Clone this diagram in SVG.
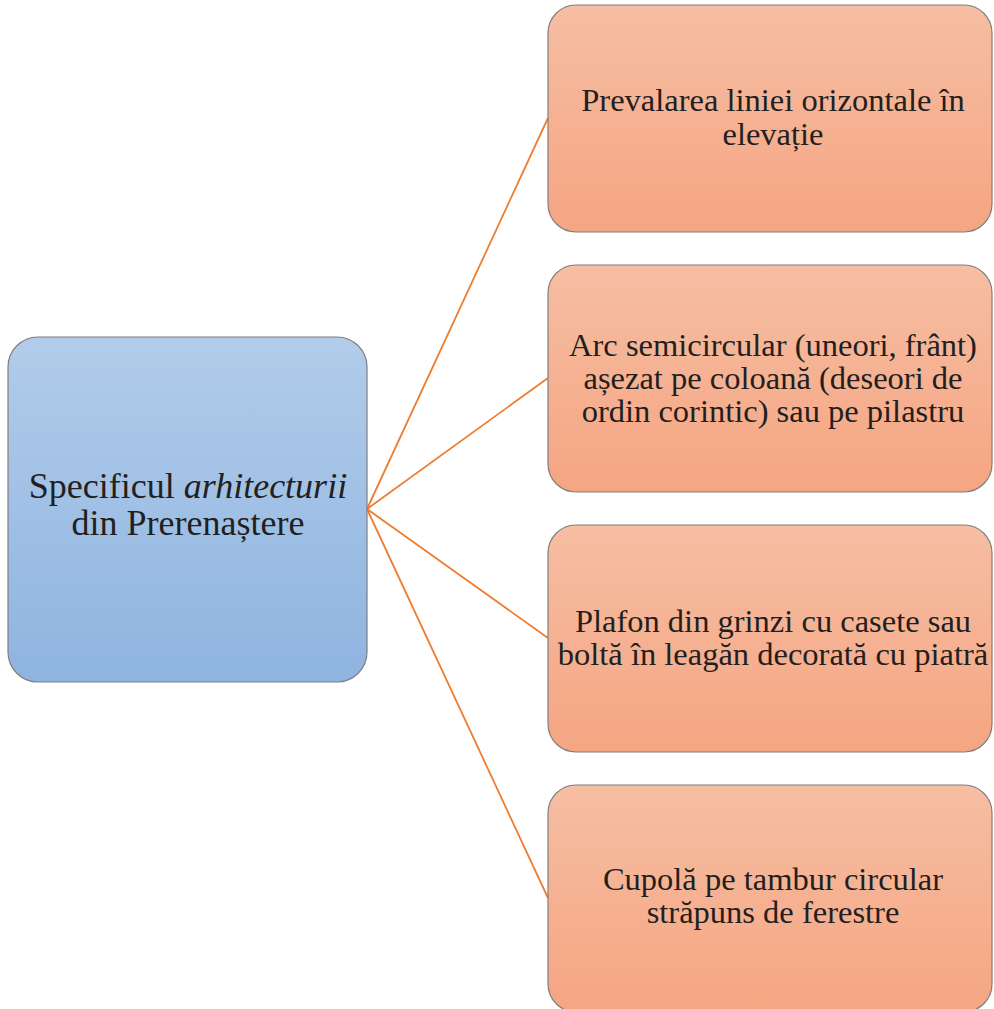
<svg xmlns="http://www.w3.org/2000/svg" width="994" height="1009" viewBox="0 0 994 1009">
<defs>
<linearGradient id="gBlue" x1="0" y1="0" x2="0" y2="1">
<stop offset="0" stop-color="#B2CCEA"/>
<stop offset="1" stop-color="#8EB4E0"/>
</linearGradient>
<linearGradient id="gOrange" x1="0" y1="0" x2="0" y2="1">
<stop offset="0" stop-color="#F6BEA3"/>
<stop offset="1" stop-color="#F5A582"/>
</linearGradient>
<style>
.box{stroke:#7F7F7F;stroke-width:1.2}
.blue{fill:url(#gBlue)}
.orange{fill:url(#gOrange)}
.t{font-family:"Liberation Serif","Times New Roman",serif;fill:#231F20;text-anchor:middle}
.r{font-size:32.5px}
.c{font-size:36px}
.conn{stroke:#ED7D31;stroke-width:1.8;fill:none}
</style>
</defs>
<rect width="994" height="1009" fill="#FFFFFF"/>
<g id="connectors">
<line class="conn" x1="367" y1="509" x2="548" y2="118"/>
<line class="conn" x1="367" y1="509" x2="548" y2="378"/>
<line class="conn" x1="367" y1="509" x2="548" y2="638"/>
<line class="conn" x1="367" y1="509" x2="548" y2="898"/>
</g>
<g id="center">
<rect class="box blue" x="8" y="337" width="359" height="345" rx="30"/>
<text class="t c" x="188" y="498">Specificul <tspan font-style="italic">arhitecturii</tspan></text>
<text class="t c" x="188" y="535">din Prerenaștere</text>
</g>
<g id="n1">
<rect class="box orange" x="548" y="5" width="444" height="227" rx="28"/>
<text class="t r" x="773" y="111">Prevalarea liniei orizontale în</text>
<text class="t r" x="773" y="145">elevație</text>
</g>
<g id="n2">
<rect class="box orange" x="548" y="265" width="444" height="227" rx="28"/>
<text class="t r" x="773" y="356">Arc semicircular (uneori, frânt)</text>
<text class="t r" x="773" y="389">așezat pe coloană (deseori de</text>
<text class="t r" x="773" y="422">ordin corintic) sau pe pilastru</text>
</g>
<g id="n3">
<rect class="box orange" x="548" y="525" width="444" height="227" rx="28"/>
<text class="t r" x="773" y="632">Plafon din grinzi cu casete sau</text>
<text class="t r" x="773" y="665">boltă în leagăn decorată cu piatră</text>
</g>
<g id="n4">
<rect class="box orange" x="548" y="785" width="444" height="227" rx="28"/>
<text class="t r" x="773" y="890">Cupolă pe tambur circular</text>
<text class="t r" x="773" y="923">străpuns de ferestre</text>
</g>
</svg>
